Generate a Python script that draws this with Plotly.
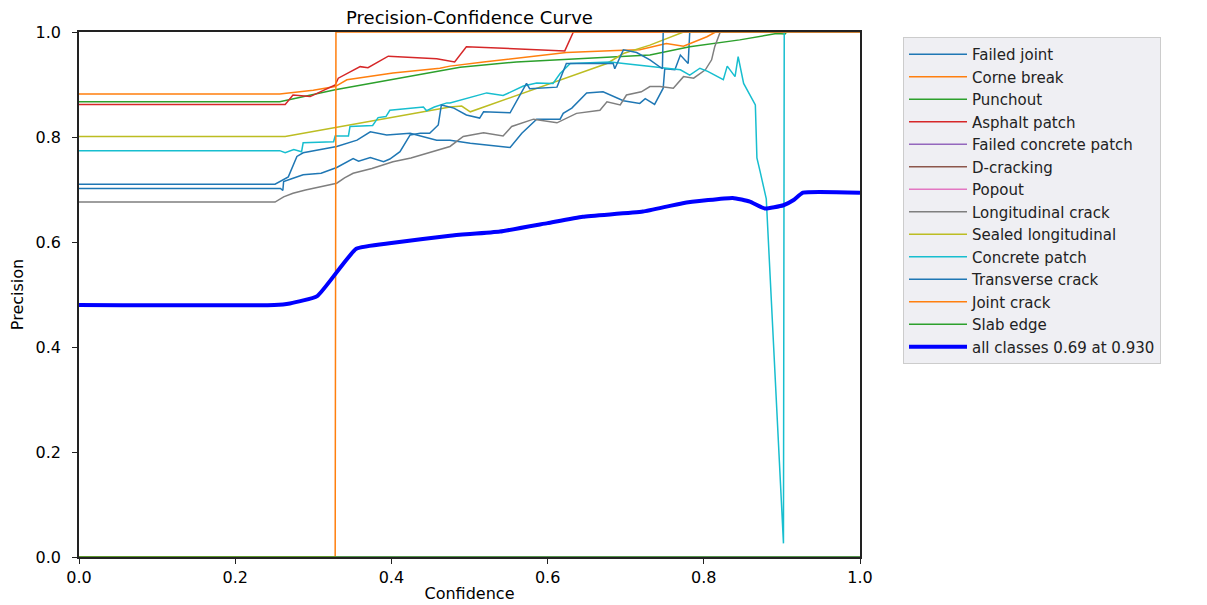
import plotly.graph_objects as go

# ---------------- data ----------------
fj_x = [0, 0.251, 0.268, 0.279, 0.287, 0.330, 0.356, 0.373, 0.394, 0.424, 0.458, 0.475, 0.501, 0.552, 0.567,
        0.586, 0.616, 0.620, 0.631, 0.637, 0.650, 0.671, 0.697, 0.718, 0.725, 0.737, 0.748, 0.750, 0.763, 0.770,
        0.780, 0.782, 1.0]
fj_y = [0.710, 0.710, 0.724, 0.763, 0.770, 0.782, 0.794, 0.810, 0.804, 0.807, 0.794, 0.794, 0.788, 0.780, 0.807,
        0.834, 0.834, 0.845, 0.855, 0.864, 0.884, 0.886, 0.869, 0.864, 0.873, 0.862, 0.893, 0.930, 0.928, 0.956,
        0.940, 1.0, 1.0]

cb_x = [0, 0.257, 0.300, 0.328, 0.343, 0.402, 0.462, 0.475, 0.518, 0.560, 0.624, 0.688, 0.718, 0.752, 0.774,
        0.804, 0.815, 1.0]
cb_y = [0.882, 0.882, 0.889, 0.896, 0.909, 0.922, 0.931, 0.935, 0.943, 0.950, 0.961, 0.965, 0.966, 0.978, 0.973,
        0.991, 1.0, 1.0]

pu_x = [0, 0.257, 0.328, 0.402, 0.488, 0.560, 0.646, 0.731, 0.782, 0.846, 0.893, 0.904, 0.906, 1.0]
pu_y = [0.867, 0.867, 0.890, 0.910, 0.933, 0.943, 0.950, 0.956, 0.972, 0.985, 0.997, 0.996, 1.0, 1.0]

ap_x = [0, 0.264, 0.274, 0.296, 0.328, 0.332, 0.360, 0.370, 0.396, 0.458, 0.481, 0.496, 0.622, 0.633, 1.0]
ap_y = [0.862, 0.862, 0.880, 0.877, 0.899, 0.912, 0.934, 0.932, 0.954, 0.949, 0.943, 0.972, 0.964, 1.0, 1.0]

zero_x = [0, 1.0]
zero_y = [0, 0]

lc_x = [0, 0.251, 0.262, 0.274, 0.290, 0.309, 0.330, 0.340, 0.351, 0.375, 0.402, 0.425, 0.445, 0.475, 0.492,
        0.518, 0.543, 0.554, 0.582, 0.612, 0.637, 0.667, 0.676, 0.693, 0.701, 0.720, 0.731, 0.744, 0.761, 0.774,
        0.787, 0.802, 0.810, 0.814, 0.821, 1.0]
lc_y = [0.676, 0.676, 0.686, 0.693, 0.699, 0.705, 0.712, 0.722, 0.731, 0.740, 0.753, 0.760, 0.769, 0.782, 0.801,
        0.808, 0.802, 0.820, 0.834, 0.827, 0.845, 0.851, 0.867, 0.861, 0.880, 0.886, 0.896, 0.896, 0.893, 0.915,
        0.912, 0.928, 0.947, 0.972, 1.0, 1.0]

sl_x = [0, 0.264, 0.475, 0.490, 0.501, 0.676, 0.697, 0.731, 0.774, 1.0]
sl_y = [0.801, 0.801, 0.857, 0.859, 0.848, 0.940, 0.959, 0.975, 1.0, 1.0]

cp_x = [0, 0.257, 0.264, 0.275, 0.285, 0.287, 0.326, 0.328, 0.345, 0.347, 0.376, 0.383, 0.393, 0.398, 0.441,
        0.445, 0.455, 0.471, 0.475, 0.522, 0.543, 0.569, 0.586, 0.607, 0.616, 0.629, 0.680, 0.718, 0.770, 0.782,
        0.795, 0.805, 0.825, 0.830, 0.840, 0.844, 0.851, 0.866, 0.868, 0.872, 0.880, 0.902, 0.903, 1.0]
cp_y = [0.774, 0.774, 0.770, 0.776, 0.772, 0.789, 0.791, 0.802, 0.802, 0.820, 0.822, 0.837, 0.839, 0.851, 0.857,
        0.850, 0.857, 0.865, 0.865, 0.884, 0.879, 0.897, 0.903, 0.902, 0.921, 0.940, 0.943, 0.937, 0.928, 0.918,
        0.931, 0.925, 0.909, 0.935, 0.915, 0.953, 0.902, 0.861, 0.760, 0.735, 0.682, 0.026, 1.0, 1.0]

tc_x = [0, 0.258, 0.261, 0.262, 0.275, 0.287, 0.310, 0.330, 0.351, 0.358, 0.373, 0.390, 0.398, 0.411, 0.424,
        0.437, 0.449, 0.460, 0.464, 0.480, 0.496, 0.513, 0.518, 0.552, 0.573, 0.577, 0.612, 0.624, 0.632, 0.684,
        0.686, 0.697, 0.714, 0.731, 0.747, 0.748, 1.0]
tc_y = [0.702, 0.702, 0.698, 0.715, 0.722, 0.728, 0.731, 0.742, 0.759, 0.754, 0.761, 0.753, 0.758, 0.772, 0.804,
        0.807, 0.807, 0.823, 0.861, 0.855, 0.842, 0.836, 0.848, 0.846, 0.902, 0.892, 0.895, 0.940, 0.940, 0.940,
        0.930, 0.966, 0.961, 0.947, 0.930, 1.0, 1.0]

jc_x = [0, 0.328, 0.329, 1.0]
jc_y = [0, 0, 1.0, 1.0]

all_x = [0, 0.25, 0.27, 0.305, 0.355, 0.40, 0.475, 0.539, 0.60, 0.645, 0.722, 0.773, 0.837, 0.859, 0.878,
         0.902, 0.915, 0.927, 1.0]
all_y = [0.48, 0.48, 0.483, 0.497, 0.587, 0.598, 0.612, 0.620, 0.636, 0.648, 0.658, 0.674, 0.684, 0.677, 0.664,
         0.670, 0.680, 0.694, 0.694]

names = ["Failed joint", "Corne break", "Punchout", "Asphalt patch", "Failed concrete patch", "D-cracking",
         "Popout", "Longitudinal crack", "Sealed longitudinal", "Concrete patch", "Transverse crack",
         "Joint crack", "Slab edge"]
colors = ["#1f77b4", "#ff7f0e", "#2ca02c", "#d62728", "#9467bd", "#8c564b", "#e377c2", "#7f7f7f",
          "#bcbd22", "#17becf", "#1f77b4", "#ff7f0e", "#2ca02c"]
series = [(fj_x, fj_y), (cb_x, cb_y), (pu_x, pu_y), (ap_x, ap_y), (zero_x, zero_y), (zero_x, zero_y),
          (zero_x, zero_y), (lc_x, lc_y), (sl_x, sl_y), (cp_x, cp_y), (tc_x, tc_y), (jc_x, jc_y),
          (zero_x, zero_y)]
all_name = "all classes 0.69 at 0.930"

FONT = "DejaVu Sans, Liberation Sans, Arial, sans-serif"

# the page body adds an 8 px offset; the figure is sized so that the plot box lands at
# x 79..860, y 32..557 in the 1207x605 window
W, H, OFF = 1199, 597, 8

fig = go.Figure()
for name, col, (xs, ys) in zip(names, colors, series):
    fig.add_trace(go.Scatter(x=xs, y=ys, mode="lines", name=name,
                             line=dict(color=col, width=1.5)))
fig.add_trace(go.Scatter(x=all_x, y=all_y, mode="lines", name=all_name,
                         line=dict(color="#0000ff", width=4, shape="spline", smoothing=0.4)))

axis_common = dict(range=[0, 1], showline=True, mirror=True, linecolor="#222222", linewidth=1.7,
                   ticks="outside", ticklen=5, tickcolor="#222222", dtick=0.2, tick0=0, tickformat=".1f",
                   showgrid=False, zeroline=False, automargin=False, layer="above traces",
                   tickfont=dict(family=FONT, size=16, color="black"))

fig.update_layout(
    width=W, height=H,
    margin=dict(l=79 - OFF, r=347, t=32 - OFF, b=48, autoexpand=False),
    paper_bgcolor="white", plot_bgcolor="white",
    title=dict(text="Precision-Confidence Curve", x=((79 + 860) / 2 - OFF) / W, xanchor="center",
               y=1 - (18 - OFF) / H, yanchor="middle", font=dict(family=FONT, size=18, color="black")),
    xaxis=dict(**axis_common, title=dict(text="Confidence", standoff=2,
                                          font=dict(family=FONT, size=16, color="black"))),
    yaxis=dict(**axis_common, ticklabelstandoff=8,
               title=dict(text="Precision", standoff=12,
                          font=dict(family=FONT, size=16, color="black"))),
    legend=dict(x=(903 - 79) / 781, y=(557 - 37) / 525, xanchor="left", yanchor="top",
                bgcolor="#efeff3", bordercolor="#cccccc", borderwidth=1,
                font=dict(family=FONT, size=15, color="#222222"), itemwidth=58,
                tracegroupgap=0),
    showlegend=True,
)

fig.write_html("out.html")
